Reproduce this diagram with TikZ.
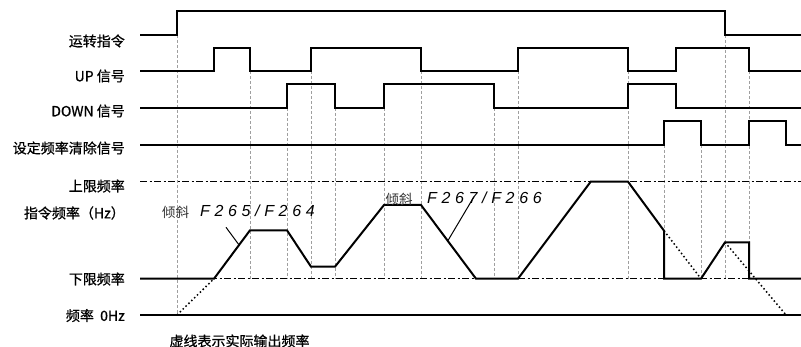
\documentclass[tikz,border=0pt]{standalone}
\usepackage{fontspec}
\setmainfont{Noto Sans CJK SC}
\newfontfamily\lblfont[FakeBold=0.8]{Noto Sans CJK SC}
\newfontfamily\segfont[LetterSpace=29]{Liberation Sans}
\begin{document}
\begin{tikzpicture}[x=1pt,y=-1pt,
  sig/.style={line width=2pt, black, line join=miter},
  guide/.style={gray!75, dash pattern=on 3pt off 2pt, line width=0.8pt},
  limit/.style={line width=1.4pt, dash pattern=on 7pt off 2.5pt on 2pt off 2.5pt},
  actual/.style={line width=1.5pt, dash pattern=on 1.5pt off 2.5pt},
  lbl/.style={anchor=east, inner sep=0pt, font=\lblfont\fontsize{14}{14}\selectfont},
  note/.style={anchor=west, inner sep=0pt, font=\fontsize{13.5}{13.5}\selectfont, text=black!80},
  seg/.style={anchor=west, inner sep=0pt, font=\segfont\itshape\fontsize{16}{16}\selectfont},
  leader/.style={line width=1pt}]
\useasboundingbox (0,0) rectangle (801,347);

% labels
\node[lbl] (lrun) at (125,41) {运转指令};
\node[lbl] (lup) at (125,76) {UP 信号};
\node[lbl] (ldown) at (125,111) {DOWN 信号};
\node[lbl] (lclr) at (125,148) {设定频率清除信号};
\node[lbl] (lupper) at (125,186) {上限频率};
\node[lbl] (lcmd) at (125,213) {指令频率（Hz）};
\node[lbl] (llower) at (125,279) {下限频率};
\node[lbl] (lzero) at (125,315.5) {频率\ \ 0Hz};
\node[inner sep=0pt, font=\lblfont\fontsize{14}{14}\selectfont] (lfoot) at (239.5,341) {虚线表示实际输出频率};

% guide lines
\draw[guide] (177,35) -- (177,315);
\foreach \x/\y in {250/71.5, 287/108, 311/71.5, 335/108, 384/108, 421/71.5, 494/108, 518/71.5, 628/71.5, 664/145, 701/145, 725/35, 749/71.5}
  \draw[guide] (\x,\y) -- (\x,278.7);

% signals
\draw[sig] (140,35) -- (177,35) -- (177,11) -- (725,11) -- (725,35) -- (801,35);
\draw[sig] (140,71.5) -| (214,48) -| (250,71.5) -| (311,48) -| (421,71.5) -| (518,48) -| (628,71.5) -| (676,48) -| (749,71.5) -- (801,71.5);
\draw[sig] (140,108) -| (287,84.5) -| (335,108) -| (384,84.5) -| (494,108) -| (628,84.5) -| (676,108) -- (801,108);
\draw[sig] (140,145) -| (664,121) -| (701,145) -| (749,121) -| (786,145) -- (801,145);

% limits
\draw[limit] (140,181.7) -- (801,181.7);
\draw[limit] (140,278.7) -- (801,278.7);
\draw[line width=1.6pt] (140,315) -- (801,315);

% frequency
\draw[sig] (140,278.7) -- (214,278.7) -- (250,230.3) -- (287,230.3) -- (311,266.7) -- (335,266.7) -- (384,205) -- (421,205) -- (476,278.7) -- (518,278.7) -- (590.7,181.7) -- (628,181.7) -- (664,230.7) -- (664,278.7) -- (701,278.7) -- (725,242.3) -- (749,242.3) -- (749,278.7) -- (801,278.7);

% actual output (dotted)
\draw[actual] (177,315) -- (214,278.7);
\draw[actual] (664,230.7) -- (701,278.7);
\draw[actual] (725,242.3) -- (786,315);

% slope notes
\node[note] (n1) at (162,212.5) {倾斜};
\node[seg] (s1) at (200,211) {F265/F264};
\coordinate (p1) at (226,227.3);
\coordinate (q1) at (238.7,244.5);
\draw[leader] (p1) -- (q1);

\node[note] (n2) at (385.5,199.5) {倾斜};
\node[seg] (s2) at (427,198) {F267/F266};
\coordinate (p2) at (474,196.7);
\coordinate (q2) at (447.7,241);
\draw[leader] (p2) -- (q2);
\end{tikzpicture}
\end{document}
